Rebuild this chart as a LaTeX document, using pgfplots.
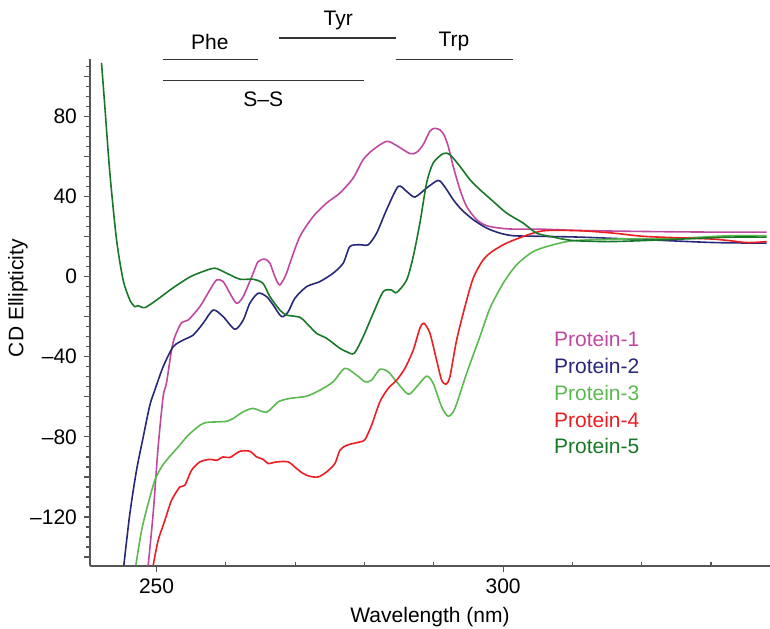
\documentclass[border=0pt]{standalone}
\usepackage{pgfplots}
\pgfplotsset{compat=1.18}
\usepackage{fontspec}
\setmainfont{Liberation Sans}

\definecolor{pone}{RGB}{192,72,160}
\definecolor{ptwo}{RGB}{40,40,120}
\definecolor{pthree}{RGB}{92,185,80}
\definecolor{pfour}{RGB}{235,30,35}
\definecolor{pfive}{RGB}{25,120,40}
\definecolor{axgray}{RGB}{85,85,85}

\begin{document}
\begin{tikzpicture}
\begin{axis}[
  name=ax,
  scale only axis,
  width=340pt, height=253.35pt,
  xmin=240.4, xmax=338.5,
  ymin=-144.3, ymax=108.6,
  axis x line*=bottom, axis y line*=left,
  axis line style={axgray, line width=0.8pt},
  every tick/.style={axgray, line width=0.6pt},
  tick align=outside,
  major tick length=3pt, minor tick length=1.8pt,
  xtick={250,300}, xticklabels={250,300},
  minor xtick={260,270,280,290,310,320,330},
  minor x tick style={yshift=1.8pt},
  ytick={-120,-80,-40,0,40,80},
  yticklabels={\textendash120,\textendash80,\textendash40,0,40,80},
  extra y ticks={-140,-100,-60,-20,20,60,100},
  extra y tick labels={},
  extra y tick style={major tick length=3pt},
  minor ytick={-140,-135,...,105},
  tick label style={font=\fontsize{10.5}{12}\selectfont},
  label style={font=\fontsize{10.5}{12}\selectfont},
  xlabel={Wavelength (nm)},
  ylabel={CD Ellipticity},
  xlabel style={at={(rel axis cs:0.5,-0.1007)}, anchor=center},
  ylabel style={at={(rel axis cs:-0.1059,0.528)}, anchor=center},
  legend style={at={(rel axis cs:0.676,0.471)}, anchor=north west,
    draw=none, fill=none, font=\fontsize{10.5}{12}\selectfont,
    row sep=0.3pt, inner sep=0pt},
  legend cell align=left,
  legend image code/.code={},
  every axis plot/.append style={line width=0.8pt, smooth, tension=0.45},
]

% Protein-1
\addplot[pone] coordinates {
(248.79,-144.2) (249.51,-118.3) (250.23,-85) (250.95,-60) (251.44,-53)
(252.16,-36.7) (252.64,-30) (253.61,-23) (254.56,-21.7) (256.25,-15)
(257.69,-6.7) (258.66,-1.7) (259.61,-2.5) (260.58,-8.3) (261.54,-13.3)
(262.5,-10) (263.94,1.7) (264.66,7.5) (265.63,8.7) (266.35,6.7)
(267.07,0) (267.79,-4.2) (268.76,1.7) (269.24,6.7) (270.68,20)
(272.6,30) (274.53,36.7) (276.45,41.7) (278.37,49.2) (279.81,58.4)
(281.26,63.4) (283.19,67.5) (284.63,65.4) (286.55,61.4) (287.52,62)
(288.47,65.9) (289.44,72.6) (290.1,74) (290.9,73.2) (291.5,70.5) (292.08,65)
(292.8,55) (293.77,43.4) (294.73,35) (296.18,28.4) (297.62,25.4)
(299.54,24.2) (301.46,23.7) (305.31,23.7) (311.08,23) (320.7,22.5)
(330.32,22.2) (338.02,22.2)
};
\addlegendentry{\textcolor{pone}{Protein-1}}

% Protein-2
\addplot[ptwo] coordinates {
(245.28,-144.2) (246.15,-118.3) (247.11,-96.7) (248.07,-80.2) (249.03,-64.2)
(249.75,-56.7) (250.95,-45) (252.4,-35) (253.84,-31.7) (255.28,-29.2)
(256.72,-23.3) (258.17,-16.7) (259.61,-20) (261.3,-26.3) (262.5,-21.7)
(263.46,-13.3) (264.66,-8.3) (265.87,-10) (266.83,-14.2) (268.04,-20)
(269.0,-17.5) (269.96,-10.8) (271.65,-5) (273.56,-2.5) (275.48,1.7)
(276.93,6.7) (277.89,15) (279.33,15.9) (280.53,15.9) (281.75,21.7)
(283.19,33.4) (284.86,45) (286.08,42.5) (287.27,39.7) (288.96,44.2)
(290.63,48) (291.6,44.7) (292.8,38.4) (294.01,33.4) (295.69,28.4)
(297.62,24.2) (299.54,21.7) (301.46,20.4) (305.31,20.1) (311.08,19.7)
(320.7,18.4) (330.32,17) (338.02,16.7)
};
\addlegendentry{\textcolor{ptwo}{Protein-2}}

% Protein-3
\addplot[pthree] coordinates {
(247.01,-144.2) (247.84,-126.7) (248.79,-113.3) (249.75,-101.7) (250.72,-95)
(251.67,-90.7) (253.12,-85) (254.56,-79.2) (256.25,-74.2) (257.22,-72.8)
(258.89,-72.5) (260.1,-72.2) (261.05,-70.8) (262.5,-67.5) (263.94,-65.8)
(265.87,-67.7) (267.55,-62.5) (269.24,-60.8) (271.65,-59.7) (273.56,-56.7)
(275.48,-52.5) (277.17,-45.8) (278.86,-49.2) (280.06,-52.5) (281.02,-51.7)
(282.22,-46.3) (283.42,-47.5) (284.63,-52.5) (286.31,-58.7) (287.52,-55)
(288.96,-49.7) (289.91,-53.3) (291.13,-65) (292.08,-69.7) (293.05,-65.8)
(294.73,-48.3) (296.65,-30) (298.1,-15.8) (300.01,-3.3) (301.95,5.9)
(304.34,12.5) (307.23,15.9) (310.11,17.9) (315.89,18.7) (325.5,19.2)
(332.72,20.4) (338.02,20.4)
};
\addlegendentry{\textcolor{pthree}{Protein-3}}

% Protein-4
\addplot[pfour] coordinates {
(249.51,-144.2) (250.23,-131.7) (251.2,-121.7) (252.16,-111.7) (253.36,-105)
(254.08,-104.2) (255.05,-96.7) (256.25,-92.5) (257.69,-91.2) (258.66,-91.7)
(259.61,-90) (260.58,-90.3) (262.02,-87.2) (263.46,-87.2) (264.43,-90)
(265.38,-91.2) (266.1,-93.3) (267.32,-92.5) (268.99,-92.5) (270.2,-95.8)
(271.15,-98.3) (272.12,-99.7) (273.32,-100) (274.53,-97.5) (275.73,-93.3)
(276.45,-86.7) (277.42,-84.2) (279.34,-82.5) (280.06,-81.4) (281.02,-74.2)
(282.22,-62.5) (283.42,-55.8) (284.63,-51.7) (285.83,-45.8) (287.03,-36.7)
(287.99,-25.8) (288.57,-23.3) (289.44,-28.3) (290.4,-41.7) (291.13,-51.7)
(291.75,-53.7) (292.32,-50) (293.29,-31.7) (294.49,-15) (295.69,-0.7)
(297.13,8.4) (298.57,12.9) (300.5,16.7) (302.42,19.4) (304.34,21.7)
(306.28,23) (311.08,22.9) (315.89,21.7) (320.7,20) (330.32,18.7)
(335.14,17) (338.02,17.5)
};
\addlegendentry{\textcolor{pfour}{Protein-4}}

% Protein-5
\addplot[pfive] coordinates {
(242.06,106.7) (242.54,85) (243.26,51.9) (244.23,18.4) (245.18,-1.7)
(246.15,-11.7) (246.87,-15) (247.34,-14.5) (248.31,-15.5) (250.0,-11.7)
(252.35,-5.7) (254.81,-0.2) (256.68,2.5) (258.41,4.2) (260.1,1.7)
(262.02,-1.3) (263.9,-1.3) (265.34,-3.3) (266.35,-10) (267.79,-16.7)
(268.76,-19.2) (270.68,-20.3) (271.65,-23.3) (273.09,-28.3) (274.53,-30.8)
(276.45,-35.8) (277.42,-37.5) (278.51,-38.3) (279.81,-30) (281.26,-18.3)
(282.7,-7.5) (283.91,-6.7) (284.63,-8) (286.08,-1.7) (287.03,10)
(287.99,26.7) (288.96,46.7) (289.91,56.7) (291.36,61.4) (292.32,60.9)
(293.77,55) (295.21,48.4) (296.65,43.4) (298.57,37.5) (300.5,31.7)
(302.9,26.7) (304.83,21.7) (307.23,19.7) (310.1,18) (315.9,17.5)
(325.5,18.7) (332.7,19.7) (338.0,19.7)
};
\addlegendentry{\textcolor{pfive}{Protein-5}}

% residue absorption ranges
\coordinate (phe1) at (axis cs:250.9,108.3);
\coordinate (phe2) at (axis cs:264.6,108.3);
\coordinate (phel) at (axis cs:257.7,117.3);
\coordinate (ss1) at (axis cs:250.9,98);
\coordinate (ss2) at (axis cs:279.9,98);
\coordinate (ssl) at (axis cs:265.4,88.3);
\coordinate (tyr1) at (axis cs:267.7,119);
\coordinate (tyr2) at (axis cs:284.5,119);
\coordinate (tyrl) at (axis cs:276.2,127.8);
\coordinate (trp1) at (axis cs:284.5,108.3);
\coordinate (trp2) at (axis cs:301.4,108.3);
\coordinate (trpl) at (axis cs:292.9,117.3);
\end{axis}

\begin{scope}[every node/.style={font=\fontsize{10.5}{12}\selectfont, inner sep=0pt}]
\draw[black!80, line width=0.7pt] (phe1) -- (phe2);
\draw[black!80, line width=0.7pt] (ss1) -- (ss2);
\draw[black!80, line width=0.7pt] (tyr1) -- (tyr2);
\draw[black!80, line width=0.7pt] (trp1) -- (trp2);
\node at (phel) {Phe};
\node at (ssl) {S\textendash S};
\node at (tyrl) {Tyr};
\node at (trpl) {Trp};
\end{scope}

\pgfresetboundingbox
\path[use as bounding box] ([shift={(-45pt,-31.15pt)}]ax.south west) rectangle ([shift={(340pt,282.85pt)}]ax.south west);
\end{tikzpicture}
\end{document}
